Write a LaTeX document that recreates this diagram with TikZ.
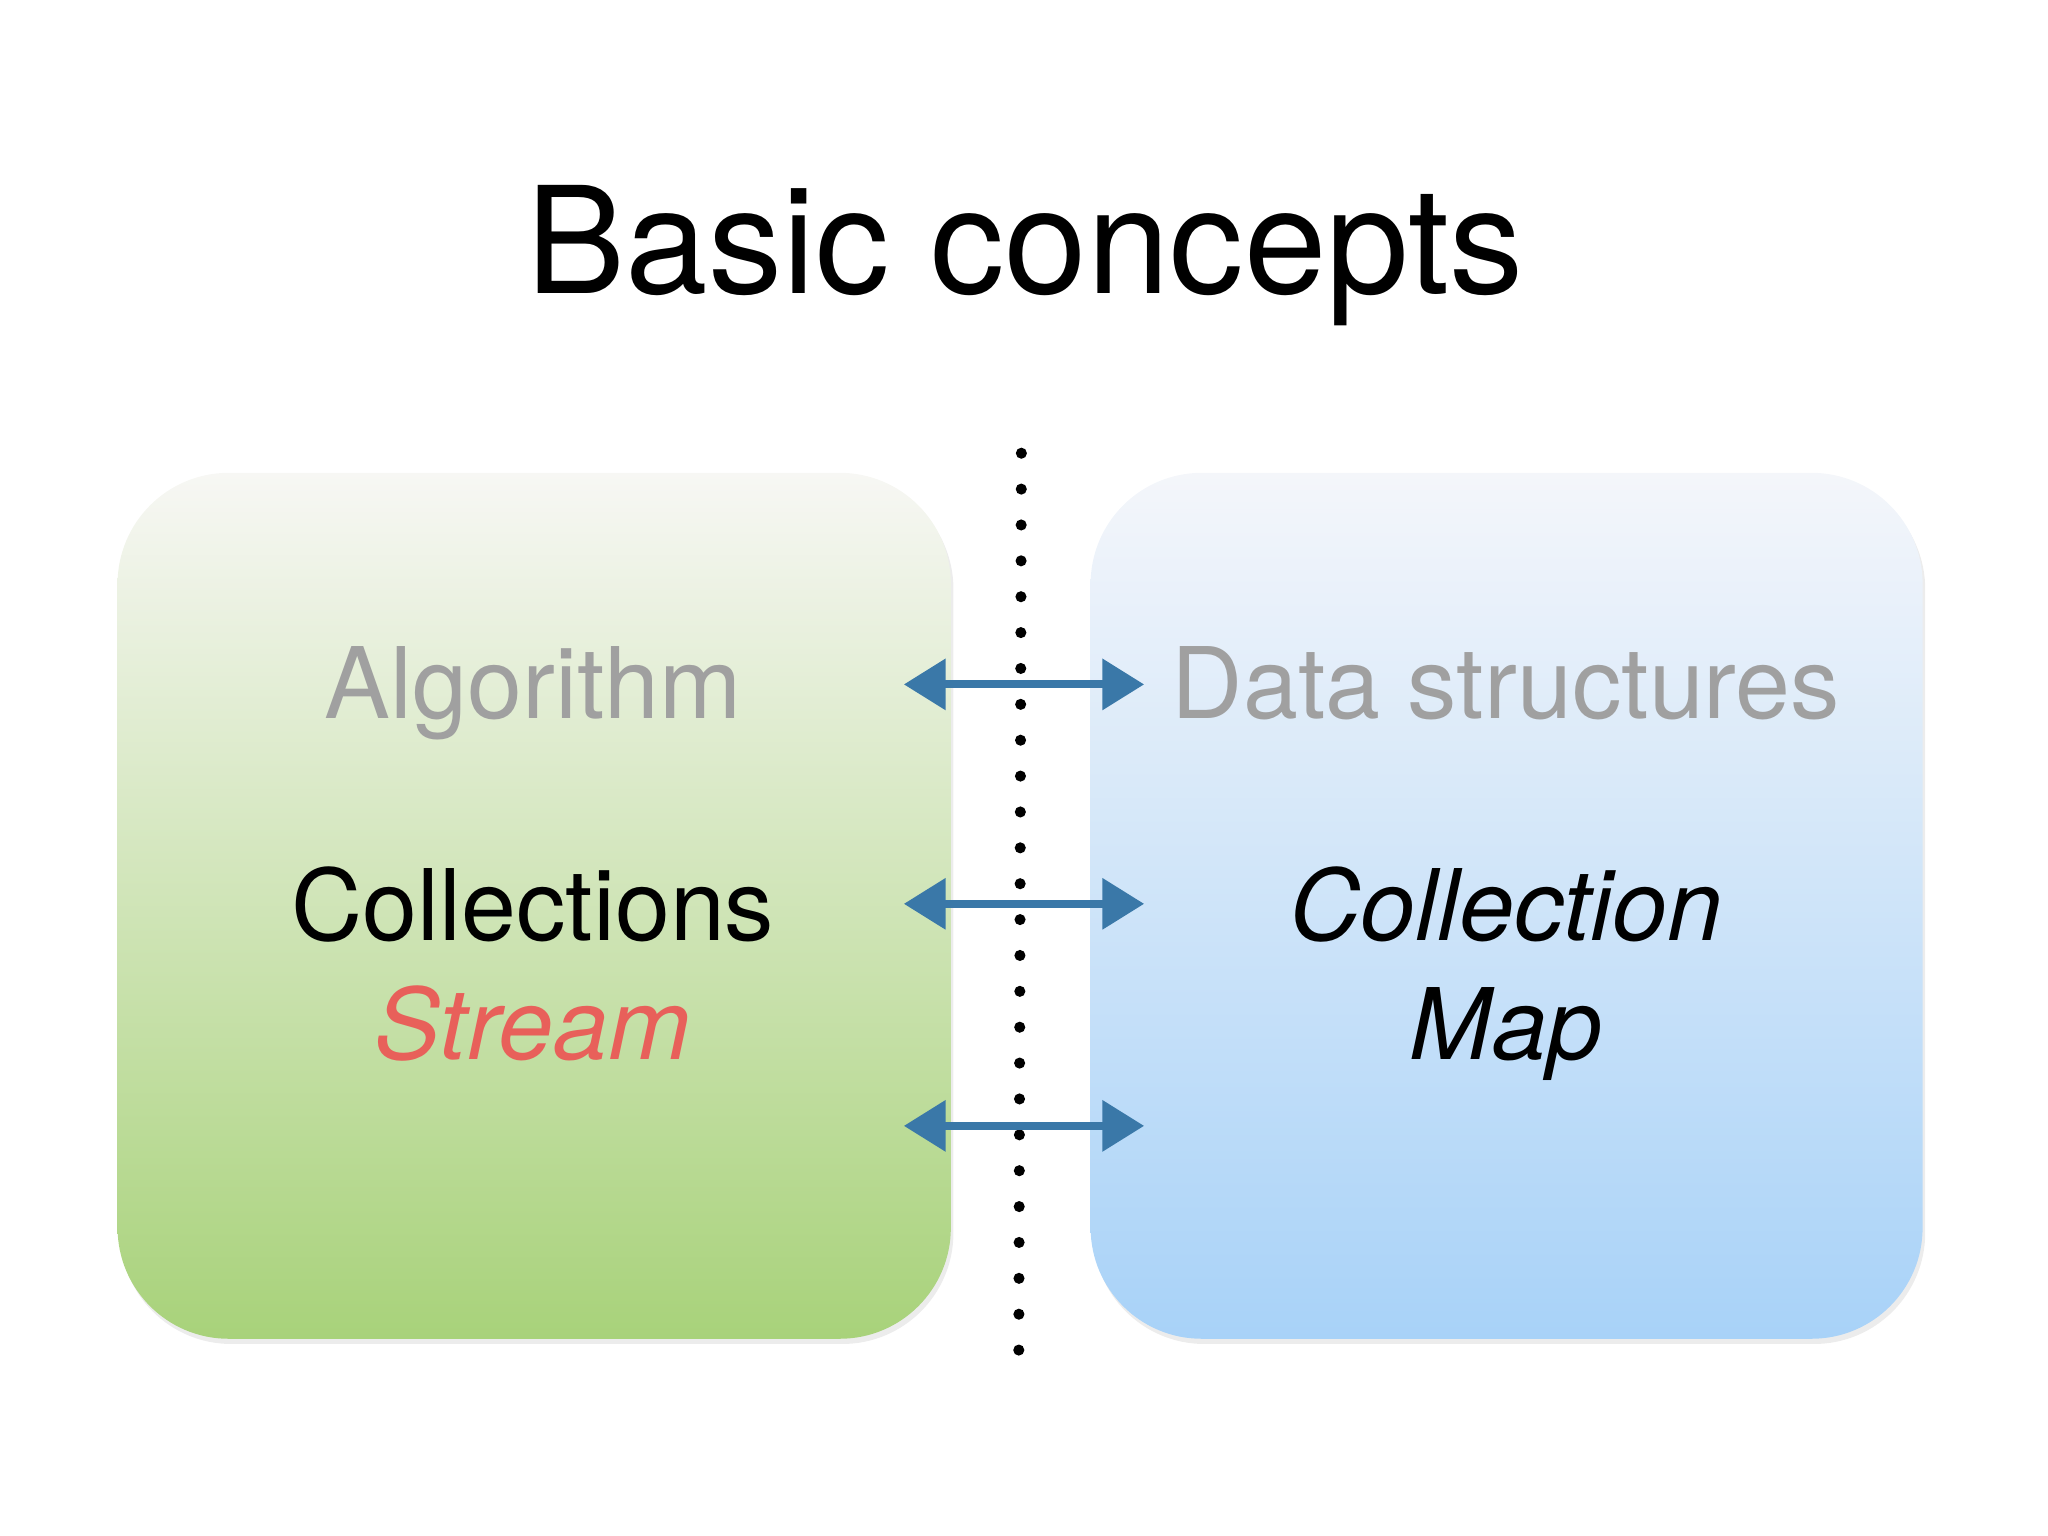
\documentclass[tikz,border=0pt]{standalone}
\usepackage{fontspec}
\setmainfont{TeX Gyre Heros}
\usetikzlibrary{arrows.meta,shadows}
\definecolor{arr}{HTML}{3A78A8}
\definecolor{lgrey}{HTML}{A0A0A0}
\definecolor{sred}{HTML}{E8605A}
\definecolor{gtop}{HTML}{F7F7F4}
\definecolor{gbot}{HTML}{A8D27A}
\definecolor{btop}{HTML}{F4F6FA}
\definecolor{bbot}{HTML}{A8D2F8}
\begin{document}
\begin{tikzpicture}[x=0.01cm,y=-0.01cm,
  box/.style={rounded corners=0.85cm,draw=none,drop shadow={opacity=0.15,shadow xshift=0.02cm,shadow yshift=-0.04cm}},
  txt/.style={font=\fontsize{21.5}{24}\selectfont,anchor=base},
  itx/.style={txt,font=\fontsize{21.5}{24}\selectfont\itshape},
  dar/.style={draw=arr,line width=0.06cm,{Triangle[width=0.38cm,length=0.32cm]}-{Triangle[width=0.38cm,length=0.32cm]}}]
\useasboundingbox (0,0) rectangle (1568,1176);
\node[font=\fontsize{32.3}{36}\selectfont,anchor=base] (title) at (785,225) {Basic concepts};
\path[box,top color=gtop,bottom color=gbot] (90,362) rectangle (728,1025);
\path[box,top color=btop,bottom color=bbot] (835,362) rectangle (1472,1025);
\node[coordinate] (dt) at (782,347) {};
\node[coordinate] (db) at (780,1040) {};
\draw[line width=0.085cm,line cap=round,dash pattern=on 0pt off 0.2745cm] (dt) -- (db);
\foreach \y/\n in {524/a,692/b,862/c}{
  \coordinate (l\n) at (692,\y); \coordinate (r\n) at (876,\y);
  \draw[dar] (l\n) -- (r\n);}
\node[txt,text=lgrey] (alg) at (408,550) {Algorithm};
\node[txt,text=lgrey] (ds) at (1153,550) {Data structures};
\node[txt] (col) at (408,720) {Collections};
\node[itx,text=sred] (st) at (408,811) {Stream};
\node[itx] (col2) at (1153,720) {Collection};
\node[itx] (map) at (1153,811) {Map};
\end{tikzpicture}
\end{document}
